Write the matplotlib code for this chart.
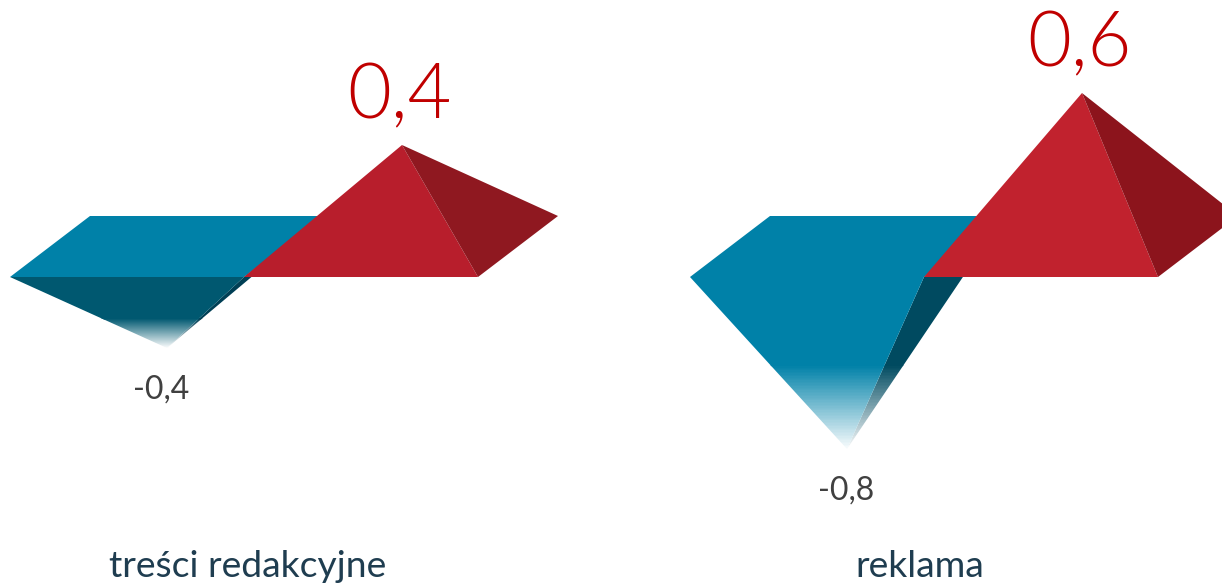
import numpy as np
import matplotlib
matplotlib.use("Agg")
import matplotlib.pyplot as plt
from matplotlib.colors import LinearSegmentedColormap
from matplotlib.patches import Polygon

plt.rcParams["font.family"] = ["Lato", "DejaVu Sans"]

# ---------------------------
# Data
# ---------------------------

categories = ["treści redakcyjne", "reklama"]
positive_values = [0.4, 0.6]
negative_values = [-0.4, -0.8]

# the original's vertical scale is not linear
scale_values = [-1.34, -0.8, -0.4, 0.0, 0.4, 0.6, 1.0]
scale_pixels = [-307, -172, -71, 0, 132, 184, 277]

# ---------------------------
# Layout and style
# ---------------------------

WIDTH, HEIGHT = 1222, 584
BASELINE = 277
group_left = [10, 690]
BAR_W = 234
DEPTH_X, DEPTH_Y = 80, 61

top_colors = ["#0081A8", "#0081A8"]
front_colors = ["#005870", "#0081A8"]
side_colors = ["#003F55", "#004A60"]
red_colors = ["#B81E2C", "#C1222E"]
dark_red_colors = ["#8F1820", "#8C141C"]
fade_starts = [0.58, 0.51]
neg_label_shift = [-6, -1]
category_centers = [247.5, 920]


def forward(v):
    return np.interp(v, scale_values, scale_pixels)


def inverse(p):
    return np.interp(p, scale_pixels, scale_values)


fig = plt.figure(figsize=(WIDTH / 100, HEIGHT / 100), dpi=100)
ax = fig.add_axes([0, 0, 1, 1])
ax.set_yscale("function", functions=(forward, inverse))
ax.set_xlim(0, WIDTH)
ax.set_ylim(scale_values[0], scale_values[-1])
ax.axis("off")

back = inverse(DEPTH_Y)


def face(points, color, z):
    patch = Polygon(points, closed=True, facecolor=color, edgecolor="none", zorder=z)
    ax.add_patch(patch)
    return patch


def fading_face(a, b, tip, color, start, z):
    # solid part down to just under the fade, then a colour to white gradient clipped to the face
    ax_, ay, bx, by = a[0], forward(a[1]), b[0], forward(b[1])
    tx, ty = tip[0], forward(tip[1])
    cut = ty * start
    solid = cut - 1.5
    s_a = (solid - ay) / (ty - ay)
    s_b = (solid - by) / (ty - by)
    p_a = (ax_ + (tx - ax_) * s_a, inverse(solid))
    p_b = (bx + (tx - bx) * s_b, inverse(solid))
    face([a, b, p_b, p_a], color, z)

    edges = inverse(np.linspace(ty, cut, 60))
    shade = np.linspace(0, 1, 59).reshape(-1, 1)
    cmap = LinearSegmentedColormap.from_list("fade", ["#FFFFFF", color])
    clip = Polygon([a, b, tip], closed=True, transform=ax.transData)
    mesh = ax.pcolormesh(
        [min(ax_, bx, tx), max(ax_, bx, tx)], edges, shade,
        cmap=cmap, vmin=-0.03, vmax=1, shading="flat", zorder=z,
        antialiased=False, linewidth=0,
    )
    mesh.set_clip_path(clip)


# ---------------------------
# Pyramids
# ---------------------------

for i, x0 in enumerate(group_left):
    neg = negative_values[i]
    pos = positive_values[i]
    neg_x = x0 + (BAR_W + DEPTH_X) / 2
    pos_x = neg_x + BAR_W + 1

    # negative pyramid
    fading_face((x0 + BAR_W, 0), (x0 + BAR_W + DEPTH_X, back), (neg_x, neg), side_colors[i], fade_starts[i], 1)
    fading_face((x0, 0), (x0 + BAR_W, 0), (neg_x, neg), front_colors[i], fade_starts[i], 2)
    face([(x0, 0), (x0 + DEPTH_X, back), (x0 + BAR_W + DEPTH_X, back), (x0 + BAR_W, 0)], top_colors[i], 3)

    # positive pyramid
    face([(x0 + BAR_W, 0), (x0 + 2 * BAR_W, 0), (pos_x, pos)], red_colors[i], 5)
    face([(x0 + 2 * BAR_W, 0), (x0 + 2 * BAR_W + DEPTH_X, back), (pos_x, pos)], dark_red_colors[i], 5)

    # labels
    ax.annotate(
        f"{pos}".replace(".", ","), (pos_x, pos), xytext=(-1.5, 27 * 0.72),
        textcoords="offset points", ha="center", va="baseline",
        fontsize=54.5, fontweight=300, color="#C00000",
    )
    ax.annotate(
        f"{neg}".replace(".", ","), (neg_x, neg), xytext=(neg_label_shift[i] * 0.72, -29 * 0.72 - 15.6),
        textcoords="offset points", ha="center", va="baseline",
        fontsize=23, color="#404040",
    )
    ax.text(
        category_centers[i], inverse(BASELINE - 577), categories[i],
        ha="center", va="baseline", fontsize=26.8, color="#1F3D50",
    )

fig.savefig("out.png", dpi=100, facecolor="white")
